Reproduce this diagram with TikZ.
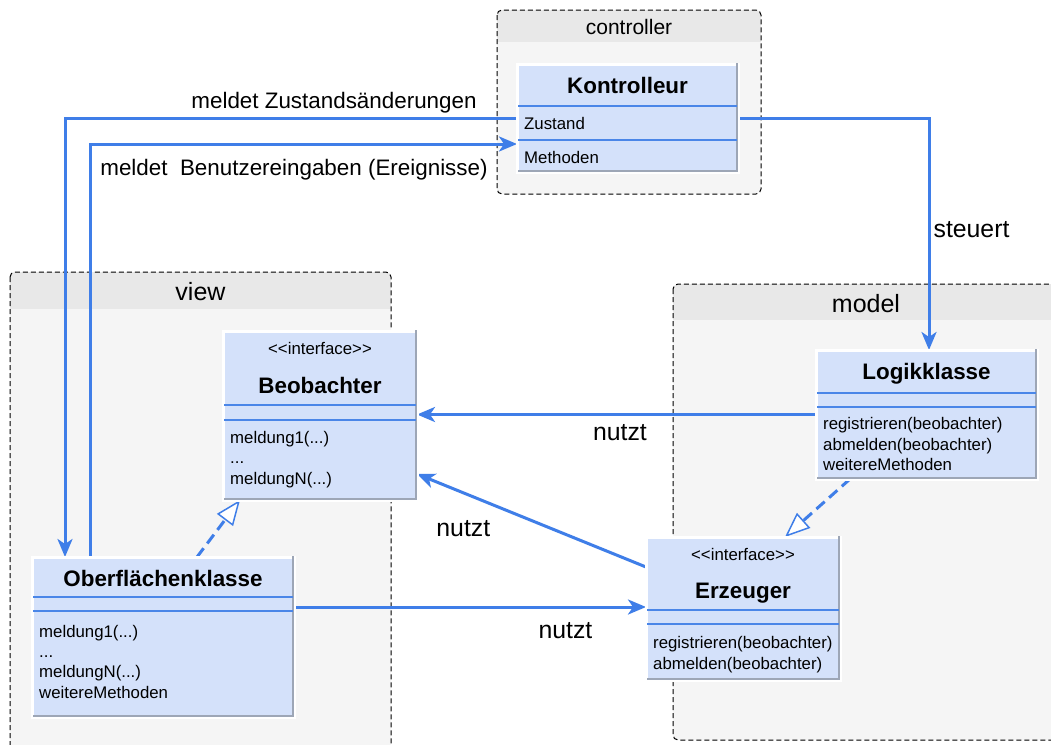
\documentclass[tikz,border=0pt]{standalone}
\usepackage{fontspec}
\setmainfont{Liberation Sans}
\usetikzlibrary{arrows.meta,calc}
\definecolor{clsfill}{HTML}{D4E1FA}
\definecolor{clsline}{HTML}{4A86E8}
\definecolor{connc}{HTML}{3F7EE8}
\definecolor{shadowgray}{HTML}{9DA6B6}
\definecolor{grphead}{HTML}{E8E8E8}
\definecolor{grpbody}{HTML}{F5F5F5}
\begin{document}
\begin{tikzpicture}[x=1pt,y=-1pt,
  grpborder/.style={draw=black,line width=1pt,dash pattern=on 5pt off 3pt,rounded corners=5pt},
  grpttl/.style={font=\fontsize{25}{30}\selectfont,anchor=base,inner sep=0pt},
  clsbox/.style={fill=clsfill,draw=white,line width=3pt,inner sep=0pt,outer sep=0pt,anchor=north west},
  shd/.style={draw=shadowgray,line width=2pt},
  sepline/.style={draw=clsline,line width=1.5pt},
  ttl/.style={font=\bfseries\fontsize{22.4}{26}\selectfont,anchor=base,inner sep=0pt},
  stereo/.style={font=\fontsize{16.8}{20}\selectfont,anchor=base,inner sep=0pt},
  rowtxt/.style={font=\fontsize{16.8}{20}\selectfont,anchor=base west,inner sep=0pt},
  lbl/.style={font=\fontsize{22.4}{26}\selectfont,anchor=base,inner sep=0pt},
  biglbl/.style={font=\fontsize{24.8}{29}\selectfont,anchor=base,inner sep=0pt},
  conn/.style={draw=connc,line width=3pt,-{Stealth[length=18pt,width=15pt,inset=5pt]}},
  realize/.style={draw=connc,line width=3pt,dash pattern=on 11pt off 6pt,-{Triangle[open,length=25pt,width=20pt,fill=white,line width=1.5pt]}}
]
\clip (0,0) rectangle (1051,744);
\fill[white] (0,0) rectangle (1051,744);

% ---------- containers ----------
% controller
\fill[grpbody,rounded corners=5pt] (497,10) rectangle (761,194);
\begin{scope}
  \clip[rounded corners=5pt] (497,10) rectangle (761,194);
  \fill[grphead] (497,10) rectangle (761,42);
\end{scope}
\draw[grpborder] (497,10) rectangle (761,194);
\node[grpttl,font=\fontsize{21}{25}\selectfont] (ctrlT) at (629,34) {controller};

% view
\fill[grpbody,rounded corners=5pt] (10,272) rectangle (391,770);
\begin{scope}
  \clip[rounded corners=5pt] (10,272) rectangle (391,770);
  \fill[grphead] (10,272) rectangle (391,309);
\end{scope}
\draw[grpborder] (10,272) rectangle (391,770);
\node[grpttl] (viewT) at (200.5,300) {view};

% model
\fill[grpbody,rounded corners=5pt] (673,284) rectangle (1059,740);
\begin{scope}
  \clip[rounded corners=5pt] (673,284) rectangle (1059,740);
  \fill[grphead] (673,284) rectangle (1059,320);
\end{scope}
\draw[grpborder] (673,284) rectangle (1059,740);
\node[grpttl] (modelT) at (866,312) {model};

% ---------- class boxes (shapes only, for anchors) ----------
\path (517,64) node[clsbox,minimum width=221pt,minimum height=108pt] (kontr) {};
\path (223,331) node[clsbox,minimum width=194pt,minimum height=169pt] (beob) {};
\path (32,557) node[clsbox,minimum width=262pt,minimum height=160pt] (oberfl) {};
\path (816,350) node[clsbox,minimum width=221pt,minimum height=129pt] (logik) {};
\path (646,537) node[clsbox,minimum width=194pt,minimum height=143pt] (erz) {};

% ---------- connectors ----------
\draw[conn] (kontr.west) -| ([xshift=33pt]oberfl.north west);
\draw[conn] ([xshift=58pt]oberfl.north west) |- ([yshift=-26pt]kontr.west);
\draw[conn] (kontr.east) -| ([xshift=2.5pt]logik.north);
\draw[conn] (logik.west) -- (logik.west -| beob.east);
\draw[conn] ([yshift=41.5pt]erz.west) -- ([yshift=-58.5pt]beob.east);
\draw[conn] ([yshift=30pt]oberfl.east) -- ([yshift=30pt]oberfl.east -| erz.west);
\draw[realize] ([xshift=34pt]oberfl.north) -- ([xshift=-80pt]beob.south);
\draw[realize] ([xshift=-76.5pt]logik.south) -- ([xshift=42pt]erz.north);

% ---------- connector labels ----------
\node[lbl] (l1) at (334,108) {meldet Zustandsänderungen};
\node[lbl] (l2) at (294,175) {meldet\ \ Benutzereingaben (Ereignisse)};
\node[biglbl] (l3) at (971.5,237) {steuert};
\node[biglbl] (l4) at (620,440) {nutzt};
\node[biglbl] (l5) at (463.3,536) {nutzt};
\node[biglbl] (l6) at (565.5,638) {nutzt};

% ---------- class boxes (drawn on top) ----------
% Kontrolleur
\path (517,64) node[clsbox,minimum width=221pt,minimum height=108pt] (kontrB) {};
\draw[shd] ([shift={(-1pt,1pt)}]kontrB.north east) -- ([shift={(-1pt,1pt)}]kontrB.south east) -- ([shift={(1pt,1pt)}]kontrB.south west);
\draw[sepline] (518,106) -- (737,106);
\draw[sepline] (518,140) -- (737,140);
\node[ttl] (kontrT) at (627.5,93.3) {Kontrolleur};
\node[rowtxt] (kz) at (524,129.3) {Zustand};
\node[rowtxt] (km) at (524,163.3) {Methoden};

% Beobachter
\path (223,331) node[clsbox,minimum width=194pt,minimum height=169pt] (beobB) {};
\draw[shd] ([shift={(-1pt,1pt)}]beobB.north east) -- ([shift={(-1pt,1pt)}]beobB.south east) -- ([shift={(1pt,1pt)}]beobB.south west);
\draw[sepline] (224,405) -- (416,405);
\draw[sepline] (224,420) -- (416,420);
\node[stereo] (beobS) at (320,354) {<\kern0pt<interface>\kern0pt>};
\node[ttl] (beobT) at (320,393.3) {Beobachter};
\node[rowtxt] (b1) at (230,443) {meldung1(...)};
\node[rowtxt] (b2) at (230,463.5) {...};
\node[rowtxt] (b3) at (230,484) {meldungN(...)};

% Oberflaechenklasse
\path (32,557) node[clsbox,minimum width=262pt,minimum height=160pt] (oberflB) {};
\draw[shd] ([shift={(-1pt,1pt)}]oberflB.north east) -- ([shift={(-1pt,1pt)}]oberflB.south east) -- ([shift={(1pt,1pt)}]oberflB.south west);
\draw[sepline] (33,597) -- (293,597);
\draw[sepline] (33,611) -- (293,611);
\node[ttl] (oberflT) at (163,586) {Oberflächenklasse};
\node[rowtxt] (o1) at (39,637) {meldung1(...)};
\node[rowtxt] (o2) at (39,657) {...};
\node[rowtxt] (o3) at (39,677.5) {meldungN(...)};
\node[rowtxt] (o4) at (39,698) {weitereMethoden};

% Logikklasse
\path (816,350) node[clsbox,minimum width=221pt,minimum height=129pt] (logikB) {};
\draw[shd] ([shift={(-1pt,1pt)}]logikB.north east) -- ([shift={(-1pt,1pt)}]logikB.south east) -- ([shift={(1pt,1pt)}]logikB.south west);
\draw[sepline] (817,393) -- (1036,393);
\draw[sepline] (817,407) -- (1036,407);
\node[ttl] (logikT) at (926.5,379.6) {Logikklasse};
\node[rowtxt] (g1) at (823,429.5) {registrieren(beobachter)};
\node[rowtxt] (g2) at (823,450) {abmelden(beobachter)};
\node[rowtxt] (g3) at (823,470.7) {weitereMethoden};

% Erzeuger
\path (646,537) node[clsbox,minimum width=194pt,minimum height=143pt] (erzB) {};
\draw[shd] ([shift={(-1pt,1pt)}]erzB.north east) -- ([shift={(-1pt,1pt)}]erzB.south east) -- ([shift={(1pt,1pt)}]erzB.south west);
\draw[sepline] (647,610) -- (839,610);
\draw[sepline] (647,624) -- (839,624);
\node[stereo] (erzS) at (743,560) {<\kern0pt<interface>\kern0pt>};
\node[ttl] (erzT) at (743,598) {Erzeuger};
\node[rowtxt] (e1) at (653,648.8) {registrieren(beobachter)};
\node[rowtxt] (e2) at (653,669.4) {abmelden(beobachter)};
\end{tikzpicture}
\end{document}
